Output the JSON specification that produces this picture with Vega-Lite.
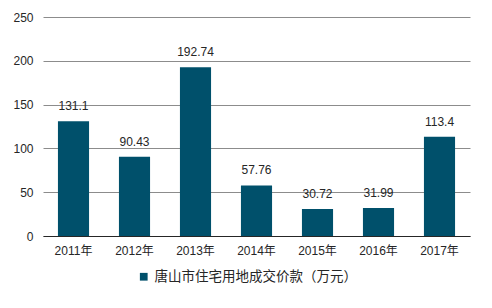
{
  "$schema": "https://vega.github.io/schema/vega-lite/v6.json",
  "width": 427,
  "height": 219,
  "autosize": {"type": "none"},
  "padding": {"left": 43, "top": 17, "right": 22, "bottom": 72},
  "background": "white",
  "config": {
    "view": {"stroke": null},
    "font": "Liberation Sans, Noto Sans CJK SC, sans-serif"
  },
  "data": {
    "values": [
      {"year": "2011年", "value": 131.1, "label": "131.1", "series": "唐山市住宅用地成交价款（万元）"},
      {"year": "2012年", "value": 90.43, "label": "90.43", "series": "唐山市住宅用地成交价款（万元）"},
      {"year": "2013年", "value": 192.74, "label": "192.74", "series": "唐山市住宅用地成交价款（万元）"},
      {"year": "2014年", "value": 57.76, "label": "57.76", "series": "唐山市住宅用地成交价款（万元）"},
      {"year": "2015年", "value": 30.72, "label": "30.72", "series": "唐山市住宅用地成交价款（万元）"},
      {"year": "2016年", "value": 31.99, "label": "31.99", "series": "唐山市住宅用地成交价款（万元）"},
      {"year": "2017年", "value": 113.4, "label": "113.4", "series": "唐山市住宅用地成交价款（万元）"}
    ]
  },
  "encoding": {
    "x": {
      "field": "year", "type": "nominal", "sort": null,
      "scale": {"paddingInner": 0.49, "paddingOuter": 0.245},
      "axis": {
        "title": null, "labelAngle": 0, "ticks": false, "labelPadding": 9,
        "domainColor": "#262626", "domainWidth": 1, "labelFontSize": 12, "labelColor": "#262626", "grid": false
      }
    },
    "y": {
      "field": "value", "type": "quantitative",
      "scale": {"domain": [0, 250]},
      "axis": {
        "title": null, "values": [0, 50, 100, 150, 200, 250], "ticks": false, "domain": false,
        "labelPadding": 10, "labelFontSize": 12, "labelColor": "#262626",
        "gridColor": "#8c8c8c", "gridWidth": 1
      }
    }
  },
  "layer": [
    {
      "mark": {"type": "bar"},
      "encoding": {
        "color": {
          "field": "series", "type": "nominal",
          "scale": {"range": ["#00506b"]},
          "legend": {
            "title": null, "orient": "none", "legendX": 94, "legendY": 253, "direction": "horizontal",
            "symbolType": "square", "symbolSize": 60, "symbolStrokeWidth": 0, "labelLimit": 400,
            "labelFontSize": 13.5, "labelColor": "#262626", "labelOffset": 4
          }
        }
      }
    },
    {
      "mark": {"type": "text", "baseline": "bottom", "dy": -8, "fontSize": 12, "color": "#262626"},
      "encoding": {"text": {"field": "label"}}
    }
  ]
}
